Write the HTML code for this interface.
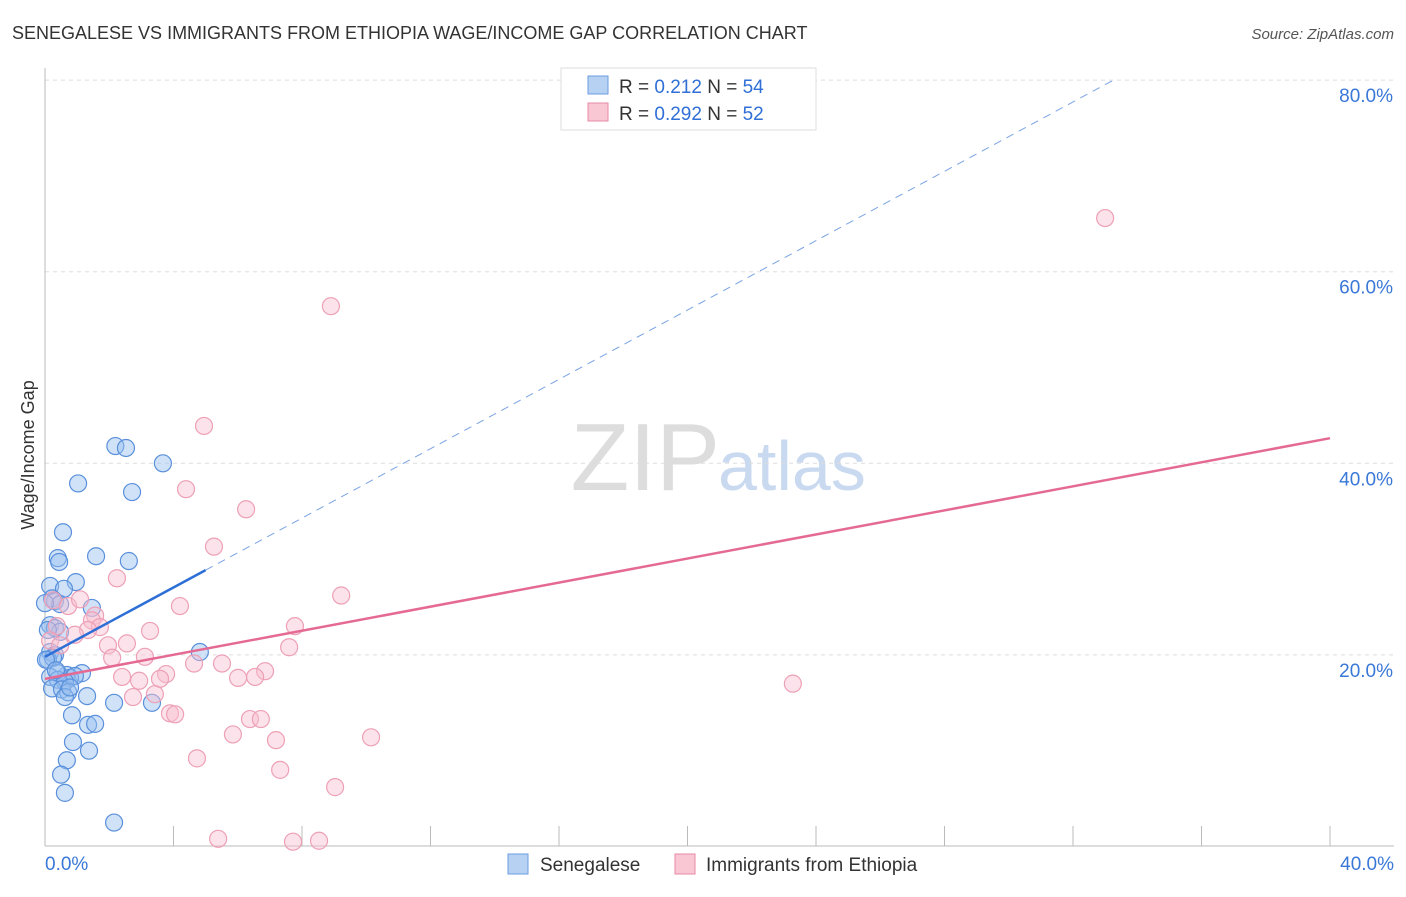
<!DOCTYPE html>
<html><head><meta charset="utf-8"><style>
body{margin:0;background:#fff;font-family:"Liberation Sans",sans-serif}
svg text{font-family:"Liberation Sans",sans-serif}
</style></head><body>
<svg width="1406" height="892" xmlns="http://www.w3.org/2000/svg">
<text x="12" y="39" font-size="18" fill="#333">SENEGALESE VS IMMIGRANTS FROM ETHIOPIA WAGE/INCOME GAP CORRELATION CHART</text>
<text x="1394" y="39" font-size="15" fill="#555" text-anchor="end" font-style="italic">Source: ZipAtlas.com</text>
<text x="720" y="490" font-size="96" fill="#ddd" text-anchor="end" font-family="Liberation Serif">ZIP</text>
<text x="718" y="490" font-size="70" fill="#c9d9ef">atlas</text>
<g id="grid"></g>
<g id="axes"></g>
<g id="pts"></g>
<g id="trend"></g>
<text transform="translate(34,455) rotate(-90)" font-size="18" fill="#333" text-anchor="middle">Wage/Income Gap</text>
<g>
<rect x="561" y="68" width="255" height="62" fill="#fff" stroke="#ddd"/>
<rect x="588" y="76" width="20" height="18" fill="#b7d1f3" stroke="#6a9be0"/>
<text x="619" y="93" font-size="19" fill="#333">R = <tspan fill="#2f6fd6">0.212</tspan>   N = <tspan fill="#2f6fd6">54</tspan></text>
<rect x="588" y="103" width="20" height="18" fill="#f9c6d3" stroke="#e88aa4"/>
<text x="619" y="120" font-size="19" fill="#333">R = <tspan fill="#2f6fd6">0.292</tspan>   N = <tspan fill="#2f6fd6">52</tspan></text>
</g>
<g>
<rect x="508" y="854" width="20" height="20" fill="#b7d1f3" stroke="#6a9be0"/>
<text x="540" y="871" font-size="19" fill="#333">Senegalese</text>
<rect x="675" y="854" width="20" height="20" fill="#f9c6d3" stroke="#e88aa4"/>
<text x="706" y="871" font-size="19" fill="#333">Immigrants from Ethiopia</text>
</g>
</svg>
<script>
const yTicks=[20,40,60,80];
const yTickLabels=["20.0%","40.0%","60.0%","80.0%"];
const blueX=[2.19,2.52,3.67,1.03,2.71,0.56,1.59,0.40,0.44,2.61,0.96,0.16,0.59,0.22,0.31,0.47,1.46,0.16,0.31,0.47,0.16,0.31,4.82,0.09,0.25,1.15,0.68,0.78,0.40,0.93,0.16,0.40,0.62,0.22,0.53,0.72,0.62,1.31,2.15,3.33,0.84,1.34,1.56,0.87,1.37,0.68,0.50,0.62,2.15,0.0,0.09,0.03,0.78,0.34];
const blueY=[41.8,41.6,40.0,37.9,37.0,32.8,30.3,30.1,29.7,29.8,27.6,27.2,26.9,25.9,25.6,25.3,24.9,23.1,22.8,22.4,20.3,20.0,20.3,19.5,19.7,18.1,17.9,17.6,18.1,17.8,17.7,17.4,17.2,16.5,16.4,16.1,15.6,15.7,15.0,15.0,13.7,12.7,12.8,10.9,10.0,9.0,7.5,5.6,2.5,25.4,22.6,19.5,16.6,18.4];
const pinkX=[33.0,8.90,4.95,4.39,6.26,5.26,2.24,9.22,4.20,0.25,0.72,1.56,1.46,1.71,1.34,3.27,0.37,0.93,2.55,1.96,7.78,7.60,2.09,3.11,4.64,5.51,3.77,6.85,2.40,2.93,3.58,6.01,6.54,23.28,2.74,3.42,3.89,4.05,6.38,6.72,5.85,7.19,10.15,4.73,7.32,9.03,5.39,7.72,8.53,0.16,0.47,1.09];
const pinkY=[65.6,56.4,43.9,37.3,35.2,31.3,28.0,26.2,25.1,25.7,25.1,24.1,23.6,22.9,22.6,22.5,23.0,22.1,21.2,21.0,23.0,20.8,19.7,19.8,19.1,19.1,18.0,18.3,17.7,17.3,17.5,17.6,17.7,17.0,15.6,15.9,13.9,13.8,13.3,13.3,11.7,11.1,11.4,9.2,8.0,6.2,0.8,0.5,0.6,21.5,21.0,25.8];
const blueTrend=[19.8,1.81];
const pinkTrend=[17.5,0.628];
const NS="http://www.w3.org/2000/svg";
const X=v=>45+v*32.125, Y=v=>846.5-v*9.58;
function mk(tag,at,parent){const e=document.createElementNS(NS,tag);for(const k in at)e.setAttribute(k,at[k]);document.getElementById(parent).appendChild(e);return e;}
yTicks.forEach((t,i)=>{
 const l=mk('line',{x1:45,x2:1394,y1:Y(t),y2:Y(t),stroke:'#ddd','stroke-dasharray':'4,4'},'grid');
 
 
 const tx=mk('text',{x:1393,y:Y(t)+22,'font-size':19,fill:'#3a78d8','text-anchor':'end'},'grid');
 tx.textContent=yTickLabels[i];
 
 
});
const ax=mk('line',{x1:45,x2:45,y1:68,y2:846,stroke:'#bbb'},'axes');


const bx=mk('line',{x1:45,x2:1394,y1:846,y2:846,stroke:'#bbb'},'axes');


for(let i=1;i<=10;i++){const t=mk('line',{x1:X(i*4),x2:X(i*4),y1:826,y2:846,stroke:'#bbb'},'axes');
 
 }
[[0,"0.0%",'start',45],[40,"40.0%",'end',1394]].forEach(a=>{const t=mk('text',{x:a[3],y:870,'font-size':19,fill:'#3a78d8','text-anchor':a[2]},'axes');t.textContent=a[1];
 
 });
blueX.forEach((v,i)=>{const c=mk('circle',{cx:X(v),cy:Y(blueY[i]),r:8.5,fill:'rgba(150,190,240,0.45)',stroke:'#5a90db','stroke-width':1.2},'pts');
 
 });
pinkX.forEach((v,i)=>{const c=mk('circle',{cx:X(v),cy:Y(pinkY[i]),r:8.5,fill:'rgba(248,190,208,0.45)',stroke:'#eda0b6','stroke-width':1.2},'pts');
 
 });
const bt=mk('line',{x1:X(0),y1:Y(blueTrend[0]),x2:X(5),y2:Y(blueTrend[0]+5*blueTrend[1]),stroke:'#2d6fd6','stroke-width':2.5},'trend');


const xe=(80-blueTrend[0])/blueTrend[1];
const bd=mk('line',{x1:X(5),y1:Y(blueTrend[0]+5*blueTrend[1]),x2:X(xe),y2:Y(80),stroke:'#7aa3e3','stroke-width':1,'stroke-dasharray':'8,6'},'trend');


const pt=mk('line',{x1:X(0),y1:Y(pinkTrend[0]),x2:X(40),y2:Y(pinkTrend[0]+40*pinkTrend[1]),stroke:'#e56a93','stroke-width':2.5},'trend');


</script>
</body></html>
